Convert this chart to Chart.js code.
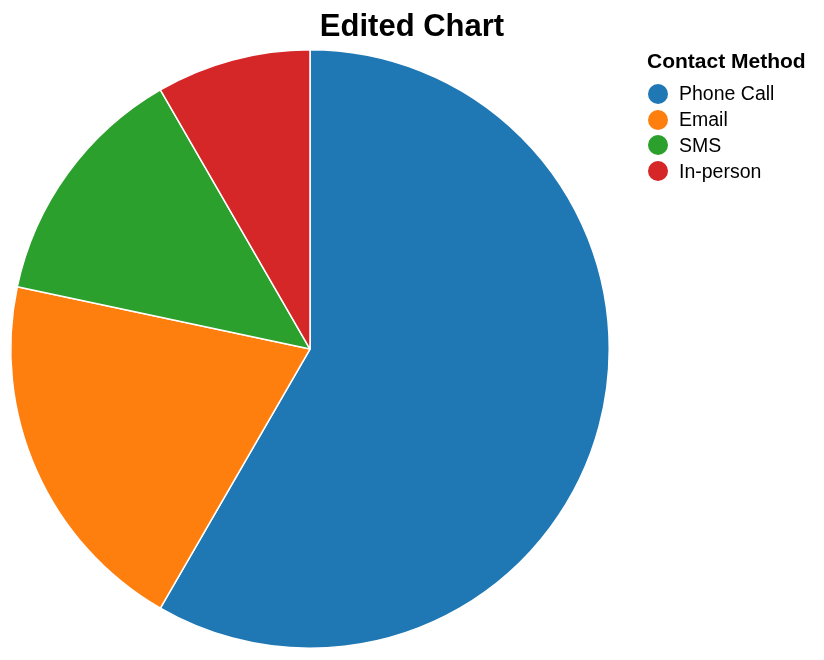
<!DOCTYPE html>
<html>
<head>
<meta charset="utf-8">
<title>Edited Chart</title>
<script src="https://cdn.jsdelivr.net/npm/chart.js@4.4.0/dist/chart.umd.min.js"></script>
<style>
  body { margin: 0; background: #fff; font-family: "Liberation Sans", Arial, sans-serif; }
  #wrap { position: relative; width: 824px; height: 660px; }
  #title { position: absolute; left: 0; top: 10px; width: 824px; text-align: center;
           font-weight: bold; font-size: 31px; line-height: 31px; color: #000; }
  #legend { position: absolute; left: 647px; top: 50px; color: #000; }
  #legend .ttl { font-weight: bold; font-size: 21px; line-height: 21px; height: 31px; }
  #legend .row { display: flex; align-items: center; height: 25.8px; font-size: 19.5px; line-height: 19.5px; }
  #legend .dot { width: 20px; height: 20px; border-radius: 50%; margin-left: 1px; margin-right: 11px; }
</style>
</head>
<body>
<div id="wrap">
  <canvas id="myChart" width="824" height="660"></canvas>
  <div id="title">Edited Chart</div>
  <div id="legend"></div>
</div>
<script>
// datos del gráfico
const categories = ['Phone Call', 'Email', 'SMS', 'In-person'];
const counts = [350, 120, 80, 50];
const colors = ['#1f77b4', '#ff7f0e', '#2ca02c', '#d62728'];

// leyenda en HTML
const legend = document.getElementById('legend');
legend.innerHTML = '<div class="ttl">Contact Method</div>' +
  categories.map((c, i) =>
    '<div class="row"><span class="dot" style="background:' + colors[i] + '"></span>' + c + '</div>'
  ).join('');

const ctx = document.getElementById('myChart').getContext('2d');

new Chart(ctx, {
  type: 'pie',
  data: {
    labels: categories,
    datasets: [
      {
        data: counts,
        backgroundColor: colors,
        borderColor: '#ffffff',
        borderWidth: 1.5
      }
    ]
  },
  options: {
    responsive: false,
    animation: false,
    layout: {
      padding: { left: 10, right: 214, top: 49, bottom: 11 }
    },
    plugins: {
      legend: { display: false },
      tooltip: { enabled: false },
      title: { display: false }
    }
  }
});
</script>
</body>
</html>
